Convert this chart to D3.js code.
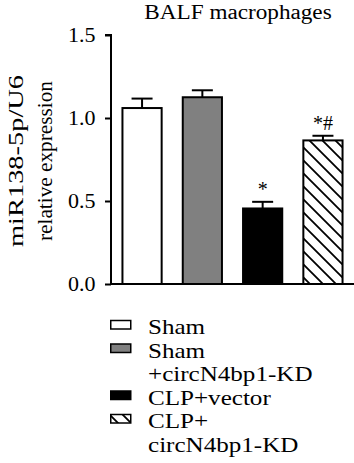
<!DOCTYPE html>
<html>
<head>
<meta charset="utf-8">
<script src="https://cdn.jsdelivr.net/npm/d3@7"></script>
<style>
  body { margin: 0; background: #fff; }
  svg { display: block; }
  svg text { font-family: "Liberation Serif", "Times New Roman", serif; fill: #000; }
</style>
</head>
<body>
<svg id="chart" width="354" height="463"></svg>
<script>
const groups = ['Sham', 'Sham+circN4bp1-KD', 'CLP+vector', 'CLP+circN4bp1-KD'];
const means = [1.06, 1.125, 0.455, 0.865];
const errors = [0.057, 0.042, 0.04, 0.028];
const sigLabels = ['', '', '*', '*#'];
const yTicks = [0, 0.5, 1.0, 1.5];
const legendLines = [['Sham'], ['Sham', '+circN4bp1-KD'], ['CLP+vector'], ['CLP+', 'circN4bp1-KD']];

let svg = d3.select('#chart');

let plot = { left: 111, right: 354, top: 35, bottom: 284 };
let stretch = 1.14; // reference glyphs are a bit wider than Times

let data = groups.map((g, i) => ({ group: g, mean: means[i], err: errors[i], sig: sigLabels[i] }));

let x = d3.scaleBand()
  .domain(groups)
  .range([plot.left, plot.right])
  .paddingInner(0.35)
  .paddingOuter(0.19);

let y = d3.scaleLinear()
  .domain([0, 1.5])
  .range([plot.bottom, plot.top]);

let fill = d3.scaleOrdinal()
  .domain(groups)
  .range(['#fff', '#808080', '#000', 'url(#hatch)']);

// hatch pattern for last group
let pat = svg.append('defs').append('pattern')
  .attr('id', 'hatch')
  .attr('patternUnits', 'userSpaceOnUse')
  .attr('width', 13)
  .attr('height', 13);
pat.append('rect').attr('width', 13).attr('height', 13).attr('fill', '#fff');
pat.append('path')
  .attr('d', 'M0,0L13,13M-3,10L3,16M10,-3L16,3')
  .attr('stroke', '#000')
  .attr('stroke-width', 1.8);

// title
svg.append('text')
  .attr('transform', `translate(238,19) scale(1.16,1)`)
  .attr('text-anchor', 'middle')
  .attr('font-size', 20)
  .text('BALF macrophages');

// y label, two lines
let ylab = ['miR138-5p/U6', 'relative expression'];
let ylabLen = [172, 160];
svg.selectAll('.ylab')
  .data(ylab)
  .enter()
  .append('text')
  .attr('class', 'ylab')
  .attr('transform', (d, i) => `translate(${23 + i * 29},161) rotate(-90)`)
  .attr('text-anchor', 'middle')
  .attr('font-size', 22)
  .attr('textLength', (d, i) => ylabLen[i])
  .attr('lengthAdjust', 'spacingAndGlyphs')
  .text(d => d);

// y axis
let yAxis = svg.append('g')
  .attr('transform', `translate(${plot.left},0)`)
  .call(d3.axisLeft(y).tickValues(yTicks).tickFormat(d3.format('.1f')).tickSize(6).tickPadding(8));
yAxis.attr('font-family', null).attr('font-size', null);
yAxis.select('.domain').attr('stroke-width', 2).attr('d', `M-6,${y(1.5)}H0V${y(0)}`);
yAxis.selectAll('.tick line').attr('stroke-width', 2);
yAxis.selectAll('.tick text')
  .attr('font-size', 20)
  .attr('dy', '0.34em')
  .attr('transform', 'scale(1.1,1)');

// bars
svg.selectAll('.bar')
  .data(data)
  .enter()
  .append('rect')
  .attr('class', 'bar')
  .attr('x', d => x(d.group))
  .attr('y', d => y(d.mean))
  .attr('width', x.bandwidth())
  .attr('height', d => y(0) - y(d.mean))
  .attr('fill', d => fill(d.group))
  .attr('stroke', '#000')
  .attr('stroke-width', 2);

// x baseline
svg.append('line')
  .attr('x1', plot.left - 1)
  .attr('x2', plot.right)
  .attr('y1', y(0))
  .attr('y2', y(0))
  .attr('stroke', '#000')
  .attr('stroke-width', 2);

// error bars (upper only)
let err = svg.selectAll('.err')
  .data(data)
  .enter()
  .append('g')
  .attr('class', 'err')
  .attr('stroke', '#000')
  .attr('stroke-width', 2);
err.append('line')
  .attr('x1', d => x(d.group) + x.bandwidth() / 2)
  .attr('x2', d => x(d.group) + x.bandwidth() / 2)
  .attr('y1', d => y(d.mean))
  .attr('y2', d => y(d.mean + d.err));
err.append('line')
  .attr('x1', d => x(d.group) + x.bandwidth() / 2 - 10.5)
  .attr('x2', d => x(d.group) + x.bandwidth() / 2 + 10.5)
  .attr('y1', d => y(d.mean + d.err))
  .attr('y2', d => y(d.mean + d.err));

// significance marks
svg.selectAll('.sig')
  .data(data.filter(d => d.sig))
  .enter()
  .append('text')
  .attr('class', 'sig')
  .attr('x', d => x(d.group) + x.bandwidth() / 2)
  .attr('y', d => y(d.mean + d.err) - 6)
  .attr('text-anchor', 'middle')
  .attr('font-size', 20)
  .text(d => d.sig);

// legend
let lineStep = 23.5;
let legendTop = 334;
let rowStart = [];
let n = 0;
legendLines.forEach(l => { rowStart.push(n); n += l.length; });

let leg = svg.selectAll('.legend')
  .data(groups)
  .enter()
  .append('g')
  .attr('class', 'legend')
  .attr('transform', (d, i) => `translate(110,${legendTop + rowStart[i] * lineStep})`);
leg.append('rect')
  .attr('x', 0.75)
  .attr('y', -13.5)
  .attr('width', 20)
  .attr('height', 8.5)
  .attr('fill', d => fill(d))
  .attr('stroke', '#000')
  .attr('stroke-width', 1.5);
leg.each(function (d, i) {
  d3.select(this).selectAll('text')
    .data(legendLines[i])
    .enter()
    .append('text')
    .attr('transform', (t, j) => `translate(38,${j * lineStep}) scale(${stretch},1)`)
    .attr('font-size', 22)
    .text(t => t);
});
</script>
</body>
</html>
